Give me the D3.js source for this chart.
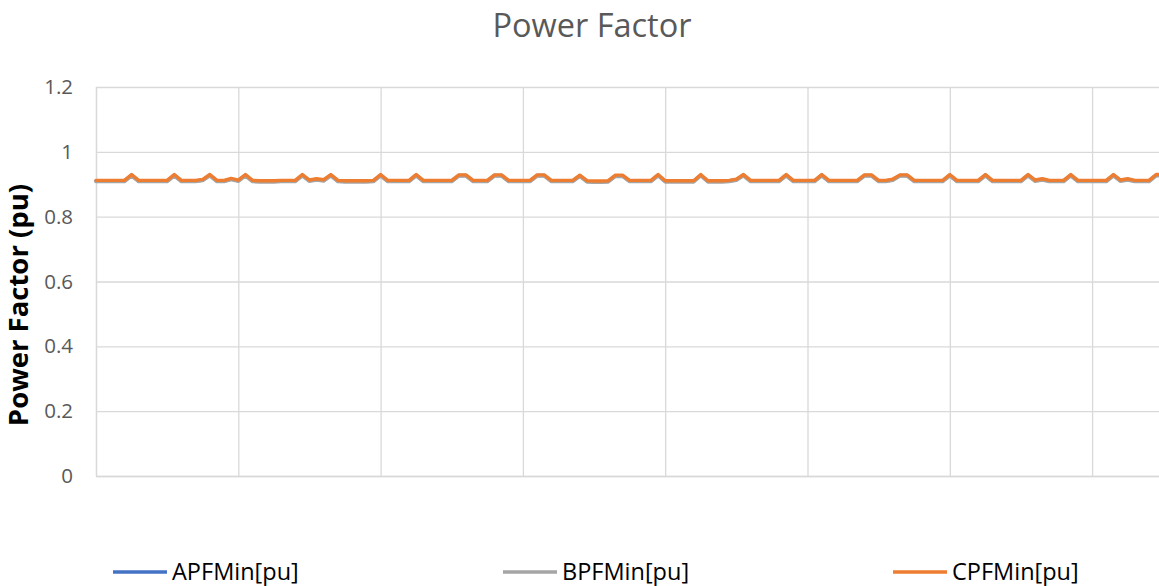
<!DOCTYPE html>
<html>
<head>
<meta charset="utf-8">
<script src="https://cdn.jsdelivr.net/npm/d3@7"></script>
<style>
  html, body { margin: 0; padding: 0; background: #fff; overflow: hidden; }
  svg { display: block; }
</style>
</head>
<body>
<svg id="chart" width="1159" height="586"></svg>
<script>
// ---- data ----
const title = "Power Factor";
const yTitle = "Power Factor (pu)";
const seriesNames = ["APFMin[pu]", "BPFMin[pu]", "CPFMin[pu]"];
const yTicks = [0, 0.2, 0.4, 0.6, 0.8, 1, 1.2];
const yTickLabels = ["0", "0.2", "0.4", "0.6", "0.8", "1", "1.2"];

const cpf = [
  0.912,0.912,0.912,0.912,0.912,0.930,0.912,0.912,0.912,0.912,
  0.912,0.930,0.912,0.912,0.912,0.915,0.930,0.912,0.912,0.918,
  0.913,0.930,0.912,0.911,0.911,0.911,0.912,0.912,0.912,0.930,
  0.913,0.917,0.914,0.930,0.912,0.911,0.911,0.911,0.911,0.912,
  0.930,0.912,0.912,0.912,0.912,0.930,0.912,0.912,0.912,0.912,
  0.912,0.929,0.929,0.912,0.912,0.912,0.929,0.929,0.912,0.912,
  0.912,0.912,0.929,0.929,0.912,0.912,0.912,0.912,0.928,0.911,
  0.910,0.910,0.911,0.928,0.928,0.912,0.912,0.912,0.912,0.930,
  0.911,0.911,0.911,0.911,0.911,0.930,0.911,0.911,0.911,0.912,
  0.916,0.930,0.912,0.912,0.912,0.912,0.912,0.930,0.912,0.912,
  0.912,0.912,0.930,0.912,0.912,0.912,0.912,0.912,0.929,0.929,
  0.912,0.912,0.916,0.929,0.929,0.912,0.912,0.912,0.912,0.912,
  0.930,0.912,0.912,0.912,0.912,0.930,0.912,0.912,0.912,0.912,
  0.912,0.930,0.913,0.917,0.912,0.912,0.912,0.930,0.912,0.912,
  0.912,0.912,0.912,0.930,0.913,0.917,0.912,0.912,0.912,0.930,
  0.930
];
const bpf = [
  0.908,0.908,0.908,0.908,0.908,0.926,0.908,0.908,0.908,0.908,
  0.908,0.926,0.908,0.908,0.908,0.911,0.926,0.908,0.908,0.914,
  0.909,0.926,0.908,0.907,0.907,0.907,0.908,0.908,0.908,0.926,
  0.909,0.913,0.910,0.926,0.908,0.907,0.907,0.907,0.907,0.908,
  0.926,0.908,0.908,0.908,0.908,0.926,0.908,0.908,0.908,0.908,
  0.908,0.925,0.925,0.908,0.908,0.908,0.925,0.925,0.908,0.908,
  0.908,0.908,0.925,0.925,0.908,0.908,0.908,0.908,0.924,0.907,
  0.906,0.906,0.907,0.924,0.924,0.908,0.908,0.908,0.908,0.926,
  0.907,0.907,0.907,0.907,0.907,0.926,0.907,0.907,0.907,0.908,
  0.912,0.926,0.908,0.908,0.908,0.908,0.908,0.926,0.908,0.908,
  0.908,0.908,0.926,0.908,0.908,0.908,0.908,0.908,0.925,0.925,
  0.908,0.908,0.912,0.925,0.925,0.908,0.908,0.908,0.908,0.908,
  0.926,0.908,0.908,0.908,0.908,0.926,0.908,0.908,0.908,0.908,
  0.908,0.926,0.909,0.913,0.908,0.908,0.908,0.926,0.908,0.908,
  0.908,0.908,0.908,0.926,0.909,0.913,0.908,0.908,0.908,0.926,
  0.926
];
const apf = [
  0.910,0.910,0.910,0.910,0.910,0.928,0.910,0.910,0.910,0.910,
  0.910,0.928,0.910,0.910,0.910,0.913,0.928,0.910,0.910,0.916,
  0.911,0.928,0.910,0.909,0.909,0.909,0.910,0.910,0.910,0.928,
  0.911,0.915,0.912,0.928,0.910,0.909,0.909,0.909,0.909,0.910,
  0.928,0.910,0.910,0.910,0.910,0.928,0.910,0.910,0.910,0.910,
  0.910,0.927,0.927,0.910,0.910,0.910,0.927,0.927,0.910,0.910,
  0.910,0.910,0.927,0.927,0.910,0.910,0.910,0.910,0.926,0.909,
  0.908,0.908,0.909,0.926,0.926,0.910,0.910,0.910,0.910,0.928,
  0.909,0.909,0.909,0.909,0.909,0.928,0.909,0.909,0.909,0.910,
  0.914,0.928,0.910,0.910,0.910,0.910,0.910,0.928,0.910,0.910,
  0.910,0.910,0.928,0.910,0.910,0.910,0.910,0.910,0.927,0.927,
  0.910,0.910,0.914,0.927,0.927,0.910,0.910,0.910,0.910,0.910,
  0.928,0.910,0.910,0.910,0.910,0.928,0.910,0.910,0.910,0.910,
  0.910,0.928,0.911,0.915,0.910,0.910,0.910,0.928,0.910,0.910,
  0.910,0.910,0.910,0.928,0.911,0.915,0.910,0.910,0.910,0.928,
  0.928
];
const categories = d3.range(1, cpf.length + 1);
const categoryTickEvery = 20;
const colors = ["#4472c4", "#a5a5a5", "#ed7d31"];

// ---- layout ----
const svg = d3.select("#chart");
const plotLeft = 96, plotTop = 87, plotBottom = 476;
const step = 7.115;
const plotRight = plotLeft + step * (categories.length - 1);

const x = d3.scalePoint().domain(categories).range([plotLeft, plotRight]);
const y = d3.scaleLinear().domain([0, 1.2]).range([plotBottom, plotTop]);

const font = "'Open Sans', 'Noto Sans', sans-serif";

// horizontal gridlines via axis
const yGrid = d3.axisLeft(y).tickValues(yTicks).tickSize(-(plotRight - plotLeft)).tickFormat("");
svg.append("g").attr("transform", `translate(${plotLeft},0)`).call(yGrid)
  .call(g => g.select(".domain").remove())
  .call(g => g.selectAll("line").attr("stroke", "#d9d9d9").attr("stroke-width", 1.3));

// vertical category gridlines via axis
const xTickVals = categories.filter((d, i) => i % categoryTickEvery === 0);
const xGrid = d3.axisBottom(x).tickValues(xTickVals).tickSize(-(plotBottom - plotTop)).tickFormat("");
svg.append("g").attr("transform", `translate(0,${plotBottom})`).call(xGrid)
  .call(g => g.select(".domain").attr("stroke", "#d9d9d9").attr("stroke-width", 1.3))
  .call(g => g.selectAll("line").attr("stroke", "#d9d9d9").attr("stroke-width", 1.3));

// y tick labels
const yAxis = d3.axisLeft(y).tickValues(yTicks).tickSize(0).tickPadding(23)
  .tickFormat((d, i) => yTickLabels[i]);
svg.append("g").attr("transform", `translate(${plotLeft},0)`).call(yAxis)
  .call(g => g.select(".domain").remove())
  .call(g => g.selectAll("text").attr("fill", "#595959")
    .style("font-family", font).style("font-size", "20.5px"));

// lines
const all = [apf, bpf, cpf];
const line = d3.line().x((d, i) => x(categories[i])).y(d => y(d));
all.forEach((s, k) => {
  svg.append("path").datum(s)
    .attr("fill", "none")
    .attr("stroke", colors[k])
    .attr("stroke-width", 3.4)
    .attr("stroke-linejoin", "round")
    .attr("stroke-linecap", "round")
    .attr("d", line);
});

// title
svg.append("text").attr("x", 592).attr("y", 37).attr("text-anchor", "middle")
  .attr("fill", "#595959").style("font-family", font).style("font-size", "32.5px")
  .text(title);

// y-axis title
svg.append("text").attr("transform", `translate(28,305) rotate(-90)`)
  .attr("text-anchor", "middle").attr("fill", "#000")
  .style("font-family", font).style("font-size", "27.5px").style("font-weight", "bold")
  .text(yTitle);

// legend
const legendX = [113, 503, 893];
const legendY = 572;
seriesNames.forEach((name, k) => {
  const g = svg.append("g").attr("transform", `translate(${legendX[k]},${legendY})`);
  g.append("line").attr("x1", 0).attr("x2", 54).attr("y1", 0).attr("y2", 0)
    .attr("stroke", colors[k]).attr("stroke-width", 3.3);
  g.append("text").attr("x", 59).attr("y", 0).attr("dy", "0.36em")
    .attr("fill", "#000").style("font-family", font).style("font-size", "23.5px")
    .text(name);
});
</script>
</body>
</html>
